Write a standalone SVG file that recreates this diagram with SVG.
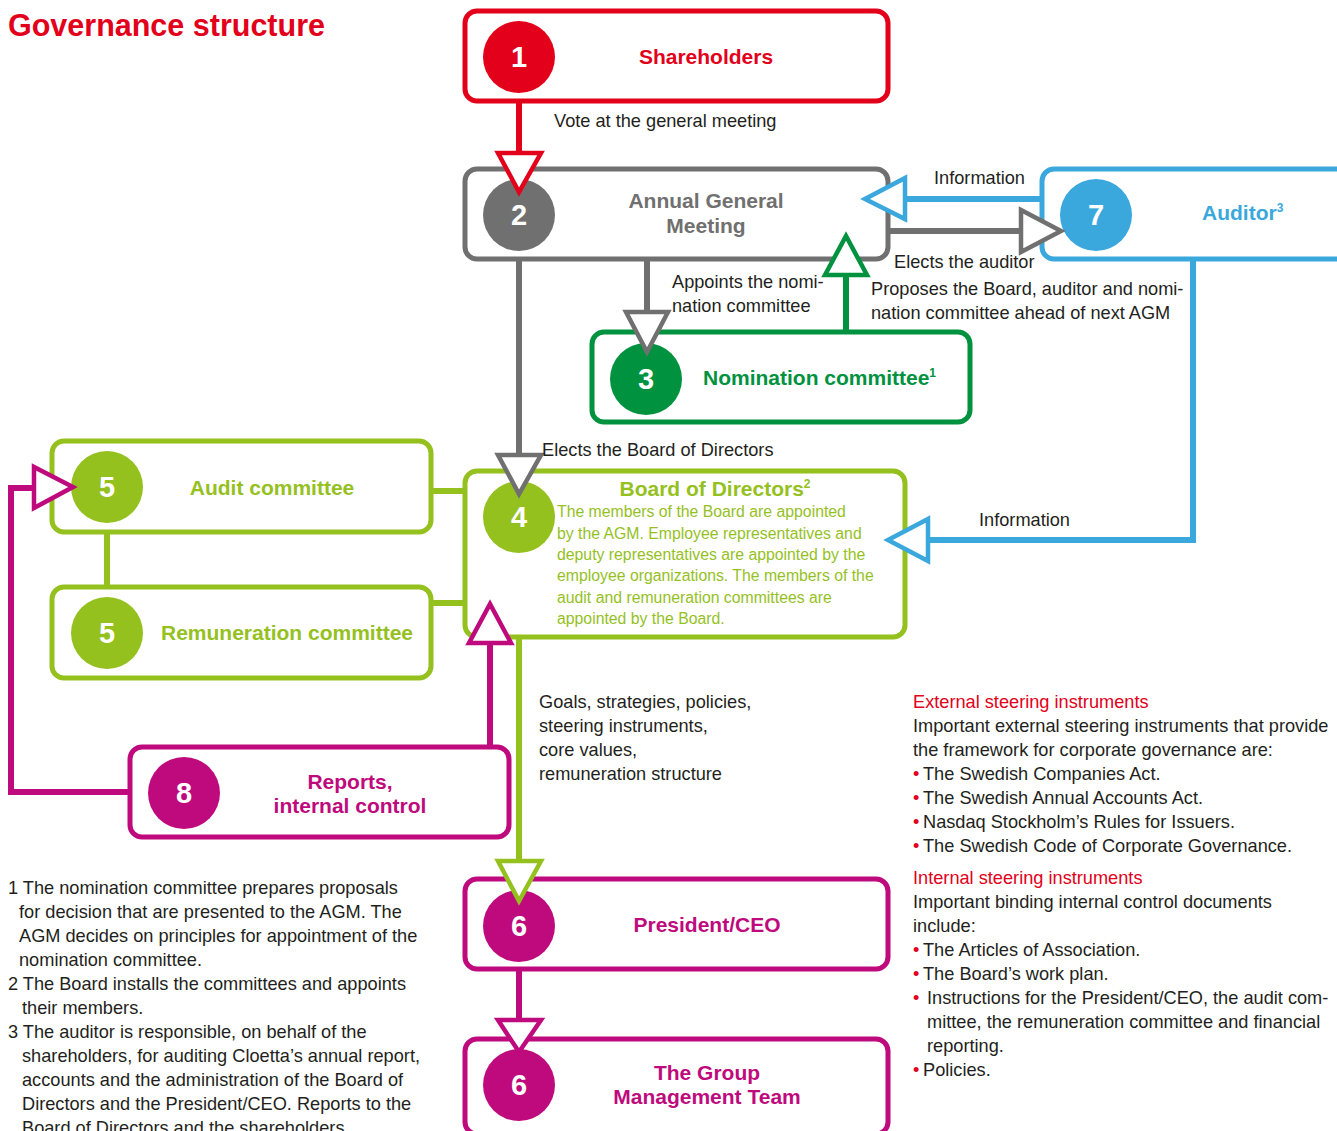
<svg xmlns="http://www.w3.org/2000/svg" width="1337" height="1131" viewBox="0 0 1337 1131">
<style>
.box{fill:#fff;stroke-width:5}
.num{font-family:"Liberation Sans",Arial,sans-serif;font-weight:bold;font-size:29px;fill:#fff;text-anchor:middle}
.lbl{font-family:"Liberation Sans",Arial,sans-serif;font-weight:bold;font-size:21px;text-anchor:middle}
.st{text-anchor:start}
.txt{font-family:"Liberation Sans",Arial,sans-serif;font-size:18.2px;fill:#231f20}
.small{font-family:"Liberation Sans",Arial,sans-serif;font-size:15.8px;fill:#95c11f}
.ln{fill:none;stroke-width:6}
.ah{fill:#fff;stroke-width:4.5;stroke-linejoin:miter}
.red{stroke:#e2001a}.gray{stroke:#707070}.blue{stroke:#3aa8dc}.dg{stroke:#00923f}.yg{stroke:#95c11f}.mg{stroke:#be0a7c}
.fred{fill:#e2001a}.fgray{fill:#707070}.fblue{fill:#3aa8dc}.fdg{fill:#00923f}.fyg{fill:#95c11f}.fmg{fill:#be0a7c}
.rt{fill:#e2001a}
</style>
<rect width="1337" height="1131" fill="#fff"/>
<text x="8" y="36" font-family="Liberation Sans,Arial,sans-serif" font-weight="bold" font-size="30.5" fill="#e2001a">Governance structure</text>

<g id="n1">
<rect class="box red" x="465" y="11" width="423" height="90" rx="12"/>
<circle class="fred" cx="519" cy="57" r="36"/>
<text class="num" x="519" y="67">1</text>
<text class="lbl fred" x="706" y="64">Shareholders</text>
</g>
<g id="n2">
<rect class="box gray" x="465" y="169" width="423" height="90" rx="12"/>
<circle class="fgray" cx="519" cy="215" r="36"/>
<text class="num" x="519" y="225">2</text>
<text class="lbl fgray" x="706" y="208">Annual General</text>
<text class="lbl fgray" x="706" y="233">Meeting</text>
</g>
<g id="n7">
<rect class="box blue" x="1042" y="169" width="310" height="90" rx="12"/>
<circle class="fblue" cx="1096" cy="215" r="36"/>
<text class="num" x="1096" y="225">7</text>
<text class="lbl st fblue" x="1202" y="220">Auditor<tspan font-size="12" dy="-8">3</tspan></text>
</g>
<g id="n3">
<rect class="box dg" x="592" y="332" width="378" height="90" rx="12"/>
<circle class="fdg" cx="646" cy="379" r="36"/>
<text class="num" x="646" y="389">3</text>
<text class="lbl st fdg" x="703" y="385">Nomination committee<tspan font-size="12" dy="-8">1</tspan></text>
</g>
<g id="n4">
<rect class="box yg" x="465" y="471" width="440" height="166" rx="12"/>
<circle class="fyg" cx="519" cy="517" r="36"/>
<text class="num" x="519" y="527">4</text>
<text class="lbl fyg" x="715" y="496">Board of Directors<tspan font-size="12" dy="-8">2</tspan></text>
<text class="small"><tspan x="557" y="517">The members of the Board are appointed</tspan><tspan x="557" y="539">by the AGM. Employee representatives and</tspan><tspan x="557" y="560">deputy representatives are appointed by the</tspan><tspan x="557" y="581">employee organizations. The members of the</tspan><tspan x="557" y="603">audit and remuneration committees are</tspan><tspan x="557" y="624">appointed by the Board.</tspan></text>
</g>
<g id="n5a">
<rect class="box yg" x="52" y="441" width="379" height="91" rx="12"/>
<circle class="fyg" cx="107" cy="487" r="36"/>
<text class="num" x="107" y="497">5</text>
<text class="lbl fyg" x="272" y="495">Audit committee</text>
</g>
<g id="n5b">
<rect class="box yg" x="52" y="587" width="379" height="91" rx="12"/>
<circle class="fyg" cx="107" cy="633" r="36"/>
<text class="num" x="107" y="643">5</text>
<text class="lbl fyg" x="287" y="640">Remuneration committee</text>
</g>
<g id="n8">
<rect class="box mg" x="130" y="747" width="379" height="90" rx="12"/>
<circle class="fmg" cx="184" cy="793" r="36"/>
<text class="num" x="184" y="803">8</text>
<text class="lbl fmg" x="350" y="789">Reports,</text>
<text class="lbl fmg" x="350" y="813">internal control</text>
</g>
<g id="n6a">
<rect class="box mg" x="465" y="879" width="423" height="90" rx="12"/>
<circle class="fmg" cx="519" cy="926" r="36"/>
<text class="num" x="519" y="936">6</text>
<text class="lbl fmg" x="707" y="932">President/CEO</text>
</g>
<g id="n6b">
<rect class="box mg" x="465" y="1039" width="423" height="95" rx="12"/>
<circle class="fmg" cx="519" cy="1085" r="36"/>
<text class="num" x="519" y="1095">6</text>
<text class="lbl fmg" x="707" y="1080">The Group</text>
<text class="lbl fmg" x="707" y="1104">Management Team</text>
</g>

<g id="connectors">
<line class="ln red" x1="519" y1="101" x2="519" y2="155"/>
<polygon class="ah red" points="498,153 541,153 519,192"/>
<line class="ln blue" x1="1042" y1="199" x2="905" y2="199"/>
<polygon class="ah blue" points="905,178 905,219 865,199"/>
<line class="ln gray" x1="888" y1="231" x2="1022" y2="231"/>
<polygon class="ah gray" points="1021,210 1021,252 1061,231"/>
<line class="ln gray" x1="647" y1="259" x2="647" y2="312"/>
<polygon class="ah gray" points="626,312 668,312 647,352"/>
<line class="ln dg" x1="846" y1="332" x2="846" y2="275"/>
<polygon class="ah dg" points="825,275 867,275 846,236"/>
<line class="ln gray" x1="519" y1="259" x2="519" y2="455"/>
<polygon class="ah gray" points="498,455 541,455 519,494"/>
<polyline class="ln blue" points="1193,259 1193,540 928,540"/>
<polygon class="ah blue" points="928,519 928,561 888,540"/>
<line class="ln yg" x1="107" y1="532" x2="107" y2="587"/>
<line class="ln yg" x1="431" y1="491" x2="465" y2="491"/>
<line class="ln yg" x1="431" y1="603" x2="465" y2="603"/>
<polyline class="ln mg" points="130,792 11,792 11,488 34,488"/>
<polygon class="ah mg" points="34,467 34,508 73,487"/>
<line class="ln mg" x1="490" y1="747" x2="490" y2="643"/>
<polygon class="ah mg" points="469,643 511,643 490,604"/>
<line class="ln yg" x1="519" y1="637" x2="519" y2="862"/>
<polygon class="ah yg" points="498,861 541,861 519,901"/>
<line class="ln mg" x1="519" y1="969" x2="519" y2="1020"/>
<polygon class="ah mg" points="498,1020 541,1020 519,1052"/>
</g>

<g id="labels">
<text class="txt" x="554" y="127">Vote at the general meeting</text>
<text class="txt" x="934" y="184">Information</text>
<text class="txt" x="894" y="268">Elects the auditor</text>
<text class="txt" x="871" y="295">Proposes the Board, auditor and nomi-</text>
<text class="txt" x="871" y="319">nation committee ahead of next AGM</text>
<text class="txt" x="672" y="288">Appoints the nomi-</text>
<text class="txt" x="672" y="312">nation committee</text>
<text class="txt" x="542" y="456">Elects the Board of Directors</text>
<text class="txt" x="979" y="526">Information</text>
<text class="txt"><tspan x="539" y="708">Goals, strategies, policies,</tspan><tspan x="539" y="732">steering instruments,</tspan><tspan x="539" y="756">core values,</tspan><tspan x="539" y="780">remuneration structure</tspan></text>
</g>

<g id="footnotes">
<text class="txt"><tspan x="8" y="894">1 The nomination committee prepares proposals</tspan><tspan x="19" y="918">for decision that are presented to the AGM. The</tspan><tspan x="19" y="942">AGM decides on principles for appointment of the</tspan><tspan x="19" y="966">nomination committee.</tspan><tspan x="8" y="990">2 The Board installs the committees and appoints</tspan><tspan x="22" y="1014">their members.</tspan><tspan x="8" y="1038">3 The auditor is responsible, on behalf of the</tspan><tspan x="22" y="1062">shareholders, for auditing Cloetta’s annual report,</tspan><tspan x="22" y="1086">accounts and the administration of the Board of</tspan><tspan x="22" y="1110">Directors and the President/CEO. Reports to the</tspan><tspan x="22" y="1134">Board of Directors and the shareholders.</tspan></text>
</g>

<g id="steering">
<text class="txt rt" x="913" y="708">External steering instruments</text>
<text class="txt"><tspan x="913" y="732">Important external steering instruments that provide</tspan><tspan x="913" y="756">the framework for corporate governance are:</tspan></text>
<text class="txt"><tspan class="rt" x="913" y="780">•</tspan><tspan x="923" y="780">The Swedish Companies Act.</tspan><tspan class="rt" x="913" y="804">•</tspan><tspan x="923" y="804">The Swedish Annual Accounts Act.</tspan><tspan class="rt" x="913" y="828">•</tspan><tspan x="923" y="828">Nasdaq Stockholm’s Rules for Issuers.</tspan><tspan class="rt" x="913" y="852">•</tspan><tspan x="923" y="852">The Swedish Code of Corporate Governance.</tspan></text>
<text class="txt rt" x="913" y="884">Internal steering instruments</text>
<text class="txt"><tspan x="913" y="908">Important binding internal control documents</tspan><tspan x="913" y="932">include:</tspan></text>
<text class="txt"><tspan class="rt" x="913" y="956">•</tspan><tspan x="923" y="956">The Articles of Association.</tspan><tspan class="rt" x="913" y="980">•</tspan><tspan x="923" y="980">The Board’s work plan.</tspan><tspan class="rt" x="913" y="1004">•</tspan><tspan x="927" y="1004">Instructions for the President/CEO, the audit com-</tspan><tspan x="927" y="1028">mittee, the remuneration committee and financial</tspan><tspan x="927" y="1052">reporting.</tspan><tspan class="rt" x="913" y="1076">•</tspan><tspan x="923" y="1076">Policies.</tspan></text>
</g>
</svg>
